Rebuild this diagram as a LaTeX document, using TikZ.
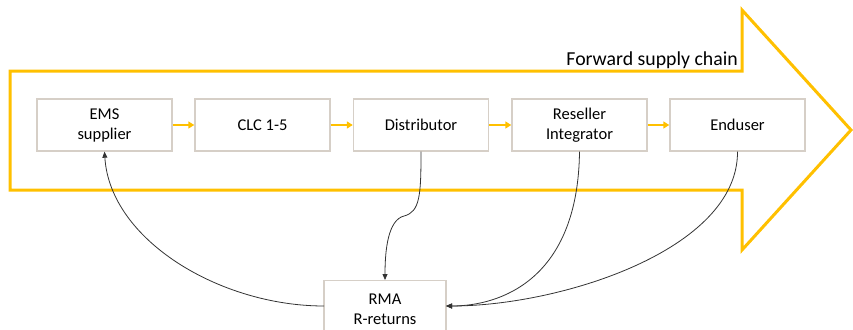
\documentclass[tikz,border=0pt]{standalone}
\usepackage{fontspec}
\setmainfont{Carlito}
\usetikzlibrary{arrows.meta}
\definecolor{gold}{RGB}{255,192,0}
\definecolor{boxline}{RGB}{214,207,199}
\begin{document}
\begin{tikzpicture}[x=1pt,y=-1pt,
  stage/.style={draw=boxline,line width=1.4pt,fill=white,minimum width=135pt,minimum height=52pt,
    align=center,inner sep=0pt,font=\fontsize{16.5}{20}\selectfont},
  flow/.style={draw=gold,line width=2pt,-{Triangle[length=6pt,width=7pt]}},
  back/.style={draw=black!80,line width=0.8pt,-{Triangle[length=6pt,width=5pt]}}]
\useasboundingbox (0,0) rectangle (853,329);
% big forward arrow outline
\draw[gold,line width=3pt,line join=miter] (10,71) -- (742,71) -- (742,10) -- (851,130) -- (742,250) -- (742,190) -- (10,190) -- cycle;
\node[anchor=base east,font=\fontsize{19.8}{23}\selectfont,inner sep=0pt] (title) at (738,66) {Forward supply chain};
% stages
\node[stage] (ems) at (104.5,125) {EMS\\supplier};
\node[stage] (clc) at (262.5,125) {CLC 1-5};
\node[stage] (dist) at (421,125) {Distributor};
\node[stage] (res) at (579.5,125) {Reseller\\Integrator};
\node[stage] (end) at (737.5,125) {Enduser};
\node[stage,minimum width=122pt,minimum height=58pt,anchor=north] (rma) at (385,280) {RMA\\R-returns};
% forward flow
\draw[flow] (ems.east) -- (clc.west);
\draw[flow] (clc.east) -- (dist.west);
\draw[flow] (dist.east) -- (res.west);
\draw[flow] (res.east) -- (end.west);
% return flows
\coordinate (rmaL) at (324,306);
\coordinate (rmaR) at (446,306);
\coordinate (bend) at (404,216);
\draw[back] (rmaL) .. controls (220,306) and (110,240) .. (ems.south);
\draw[back] (dist.south) .. controls (421,195) and (420,212) .. (bend) .. controls (388,220) and (385,250) .. (rma.north);
\draw[back] (res.south) .. controls (578,280) and (500,306) .. (rmaR);
\draw[back] (end.south) .. controls (738,250) and (560,306) .. (rmaR);
\end{tikzpicture}
\end{document}
